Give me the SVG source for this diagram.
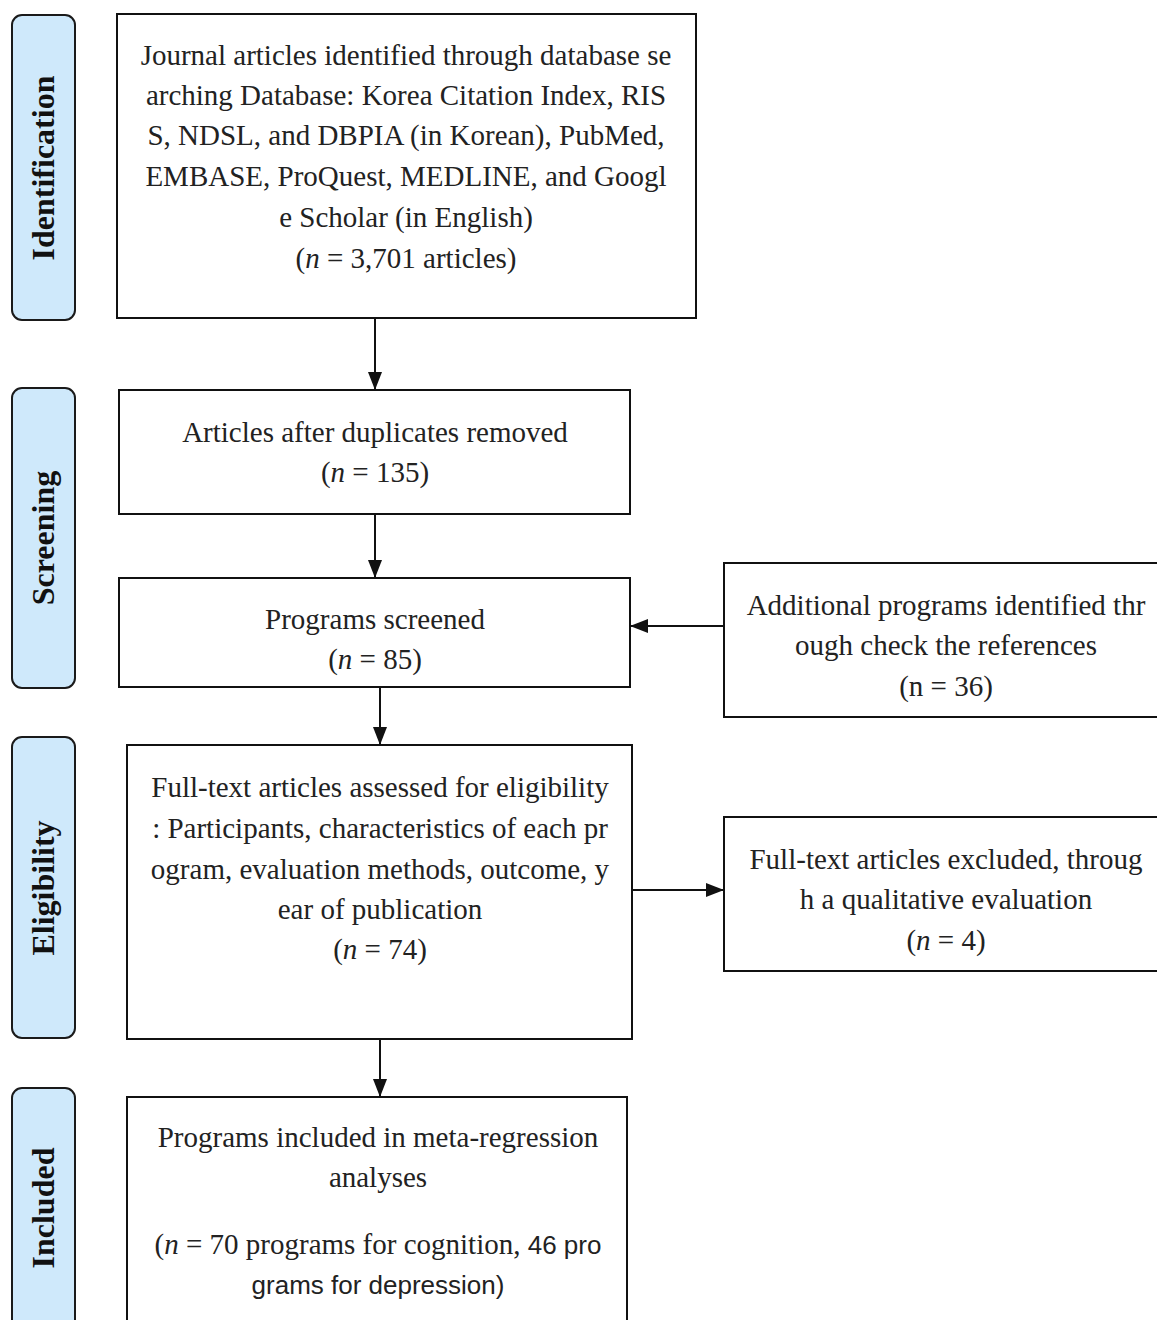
<svg xmlns="http://www.w3.org/2000/svg" width="1157" height="1320" viewBox="0 0 1157 1320">
<style>
.stage{fill:#cfe9fb;stroke:#1a1a1a;stroke-width:2}
.stxt{font-family:"Liberation Serif",serif;font-weight:bold;font-size:32px;fill:#111;text-anchor:middle}
.box{fill:#fff;stroke:#111;stroke-width:2}
.t{font-family:"Liberation Serif",serif;font-size:29px;fill:#222;text-anchor:middle}
.s{font-family:"Liberation Sans",sans-serif;font-size:26px}
.conn{stroke:#111;stroke-width:2;fill:none}
</style>
<defs>
<marker id="ahb" markerWidth="18" markerHeight="18" refX="17" refY="9" orient="auto" markerUnits="userSpaceOnUse">
<path d="M0,2 L18,9 L0,16 Z" fill="#111"/>
</marker>
</defs>
<rect width="1157" height="1320" fill="#fff"/>

<g id="stage-identification">
<rect class="stage" x="12" y="15" width="63" height="305" rx="10"/>
<text class="stxt" transform="translate(54,168) rotate(-90)">Identification</text>
</g>
<g id="stage-screening">
<rect class="stage" x="12" y="388" width="63" height="300" rx="10"/>
<text class="stxt" transform="translate(54,538) rotate(-90)">Screening</text>
</g>
<g id="stage-eligibility">
<rect class="stage" x="12" y="737" width="63" height="301" rx="10"/>
<text class="stxt" transform="translate(54,888) rotate(-90)">Eligibility</text>
</g>
<g id="stage-included">
<rect class="stage" x="12" y="1088" width="63" height="250" rx="10"/>
<text class="stxt" transform="translate(54,1208) rotate(-90)">Included</text>
</g>

<g id="n-identified">
<rect class="box" x="117" y="14" width="579" height="304"/>
<text class="t" x="406" y="65">Journal articles identified through database se</text>
<text class="t" x="406" y="105">arching Database: Korea Citation Index, RIS</text>
<text class="t" x="406" y="145">S, NDSL, and DBPIA (in Korean), PubMed,</text>
<text class="t" x="406" y="186">EMBASE, ProQuest, MEDLINE, and Googl</text>
<text class="t" x="406" y="227">e Scholar (in English)</text>
<text class="t" x="406" y="268">(<tspan font-style="italic">n</tspan> = 3,701 articles)</text>
</g>

<g id="n-duplicates">
<rect class="box" x="119" y="390" width="511" height="124"/>
<text class="t" x="375" y="442">Articles after duplicates removed</text>
<text class="t" x="375" y="482">(<tspan font-style="italic">n</tspan> = 135)</text>
</g>

<g id="n-screened">
<rect class="box" x="119" y="578" width="511" height="109"/>
<text class="t" x="375" y="629">Programs screened</text>
<text class="t" x="375" y="669">(<tspan font-style="italic">n</tspan> = 85)</text>
</g>

<g id="n-additional">
<rect class="box" x="724" y="563" width="440" height="154"/>
<text class="t" x="946" y="615">Additional programs identified thr</text>
<text class="t" x="946" y="655">ough check the references</text>
<text class="t" x="946" y="696">(n = 36)</text>
</g>

<g id="n-eligibility">
<rect class="box" x="127" y="745" width="505" height="294"/>
<text class="t" x="380" y="797">Full-text articles assessed for eligibility</text>
<text class="t" x="380" y="838">: Participants, characteristics of each pr</text>
<text class="t" x="380" y="879">ogram, evaluation methods, outcome, y</text>
<text class="t" x="380" y="919">ear of publication</text>
<text class="t" x="380" y="959">(<tspan font-style="italic">n</tspan> = 74)</text>
</g>

<g id="n-excluded">
<rect class="box" x="724" y="817" width="440" height="154"/>
<text class="t" x="946" y="869">Full-text articles excluded, throug</text>
<text class="t" x="946" y="909">h a qualitative evaluation</text>
<text class="t" x="946" y="950">(<tspan font-style="italic">n</tspan> = 4)</text>
</g>

<g id="n-included">
<rect class="box" x="127" y="1097" width="500" height="240"/>
<text class="t" x="378" y="1147">Programs included in meta-regression</text>
<text class="t" x="378" y="1187">analyses</text>
<text class="t" x="378" y="1254">(<tspan font-style="italic">n</tspan> = 70 programs for cognition, <tspan class="s">46 pro</tspan></text>
<text class="t" x="378" y="1294"><tspan class="s">grams for depression)</tspan></text>
</g>

<g id="connectors">
<line class="conn" x1="375" y1="318" x2="375" y2="389" marker-end="url(#ahb)"/>
<line class="conn" x1="375" y1="514" x2="375" y2="577" marker-end="url(#ahb)"/>
<line class="conn" x1="380" y1="687" x2="380" y2="744" marker-end="url(#ahb)"/>
<line class="conn" x1="380" y1="1039" x2="380" y2="1096" marker-end="url(#ahb)"/>
<line class="conn" x1="724" y1="626" x2="631" y2="626" marker-end="url(#ahb)"/>
<line class="conn" x1="632" y1="890" x2="723" y2="890" marker-end="url(#ahb)"/>
</g>
</svg>
